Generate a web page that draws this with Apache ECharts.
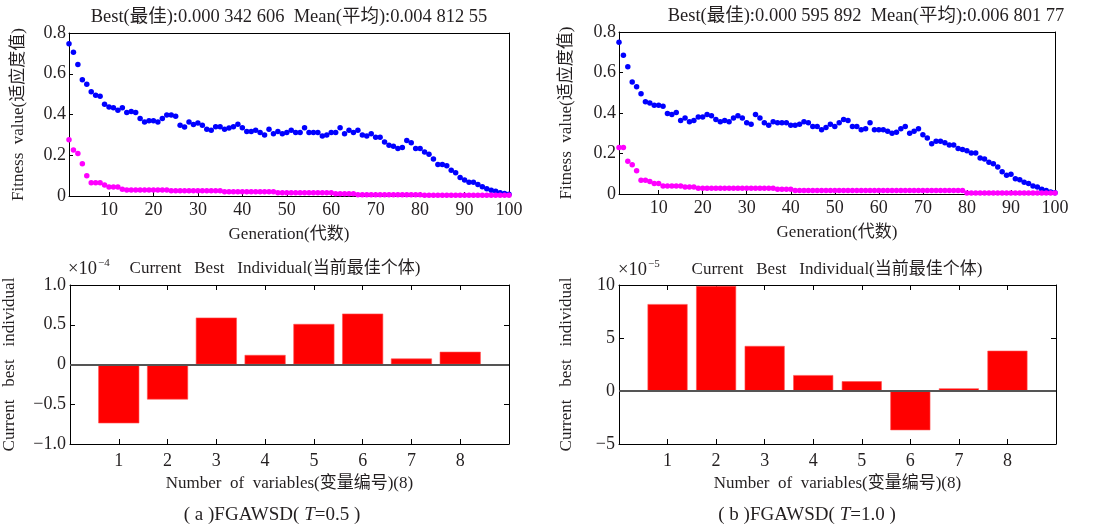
<!DOCTYPE html>
<html>
<head>
<meta charset="utf-8">
<script src="https://cdn.jsdelivr.net/npm/echarts@6/dist/echarts.min.js"></script>
<style>
  html, body { margin: 0; padding: 0; background: #fff; }
  #chart { width: 1094px; height: 527px; }
</style>
</head>
<body>
<div id="chart"></div>
<script>
// generation index 1..100
const generations = Array.from({ length: 100 }, (_, i) => i + 1);
const genTicks = [10, 20, 30, 40, 50, 60, 70, 80, 90, 100];

// (a) T=0.5, mean fitness (blue) and best fitness (magenta)
const meanA = [
  0.747, 0.706, 0.645, 0.570, 0.548, 0.512, 0.494, 0.489, 0.450, 0.437,
  0.433, 0.421, 0.433, 0.410, 0.415, 0.410, 0.380, 0.363, 0.369, 0.369,
  0.363, 0.380, 0.398, 0.398, 0.392, 0.347, 0.339, 0.363, 0.351, 0.358,
  0.347, 0.328, 0.323, 0.340, 0.340, 0.328, 0.334, 0.340, 0.352, 0.335,
  0.317, 0.317, 0.323, 0.312, 0.300, 0.328, 0.305, 0.317, 0.305, 0.312,
  0.323, 0.312, 0.312, 0.335, 0.312, 0.312, 0.312, 0.295, 0.300, 0.312,
  0.312, 0.335, 0.305, 0.323, 0.312, 0.323, 0.300, 0.295, 0.305, 0.288,
  0.288, 0.265, 0.249, 0.244, 0.233, 0.238, 0.272, 0.261, 0.233, 0.233,
  0.216, 0.205, 0.182, 0.154, 0.154, 0.149, 0.126, 0.114, 0.091, 0.079,
  0.068, 0.068, 0.056, 0.045, 0.035, 0.028, 0.023, 0.016, 0.012, 0.008
];
const bestA = [
  0.276, 0.226, 0.208, 0.158, 0.100, 0.065, 0.065, 0.065, 0.054, 0.044,
  0.044, 0.044, 0.033, 0.030, 0.030, 0.030, 0.030, 0.030, 0.030, 0.030,
  0.030, 0.030, 0.030, 0.026, 0.026, 0.026, 0.026, 0.026, 0.026, 0.026,
  0.026, 0.026, 0.026, 0.026, 0.026, 0.021, 0.021, 0.021, 0.021, 0.021,
  0.021, 0.021, 0.021, 0.021, 0.021, 0.021, 0.021, 0.016, 0.016, 0.016,
  0.016, 0.016, 0.016, 0.016, 0.016, 0.016, 0.016, 0.016, 0.016, 0.016,
  0.011, 0.011, 0.011, 0.011, 0.011, 0.006, 0.006, 0.006, 0.006, 0.006,
  0.006, 0.006, 0.006, 0.006, 0.006, 0.006, 0.006, 0.006, 0.006, 0.006,
  0.004, 0.004, 0.004, 0.004, 0.004, 0.004, 0.004, 0.004, 0.004, 0.004,
  0.004, 0.004, 0.004, 0.004, 0.004, 0.004, 0.004, 0.004, 0.004, 0.004
];

// (b) T=1.0
const meanB = [
  0.750, 0.685, 0.628, 0.553, 0.530, 0.495, 0.455, 0.450, 0.438, 0.438,
  0.433, 0.398, 0.392, 0.403, 0.363, 0.375, 0.357, 0.363, 0.380, 0.380,
  0.392, 0.387, 0.368, 0.357, 0.363, 0.357, 0.375, 0.387, 0.375, 0.352,
  0.345, 0.392, 0.375, 0.352, 0.340, 0.357, 0.352, 0.352, 0.352, 0.340,
  0.340, 0.345, 0.357, 0.352, 0.333, 0.333, 0.317, 0.328, 0.345, 0.333,
  0.352, 0.368, 0.363, 0.333, 0.333, 0.317, 0.322, 0.352, 0.317, 0.317,
  0.317, 0.310, 0.300, 0.305, 0.322, 0.333, 0.300, 0.310, 0.322, 0.293,
  0.277, 0.248, 0.260, 0.260, 0.253, 0.242, 0.242, 0.225, 0.220, 0.213,
  0.202, 0.202, 0.178, 0.173, 0.157, 0.150, 0.133, 0.110, 0.093, 0.098,
  0.075, 0.070, 0.058, 0.052, 0.040, 0.035, 0.023, 0.017, 0.010, 0.006
];
const bestB = [
  0.230, 0.230, 0.162, 0.145, 0.115, 0.068, 0.068, 0.062, 0.052, 0.052,
  0.040, 0.040, 0.040, 0.040, 0.040, 0.035, 0.035, 0.035, 0.028, 0.028,
  0.028, 0.028, 0.028, 0.028, 0.028, 0.028, 0.028, 0.028, 0.028, 0.028,
  0.028, 0.028, 0.028, 0.028, 0.028, 0.028, 0.023, 0.023, 0.023, 0.023,
  0.017, 0.017, 0.017, 0.017, 0.017, 0.017, 0.017, 0.017, 0.017, 0.017,
  0.017, 0.017, 0.017, 0.017, 0.017, 0.017, 0.017, 0.017, 0.017, 0.017,
  0.017, 0.017, 0.017, 0.017, 0.017, 0.017, 0.017, 0.017, 0.017, 0.017,
  0.017, 0.017, 0.017, 0.017, 0.017, 0.017, 0.017, 0.017, 0.017, 0.005,
  0.005, 0.005, 0.005, 0.005, 0.005, 0.005, 0.005, 0.005, 0.005, 0.005,
  0.005, 0.005, 0.005, 0.005, 0.005, 0.005, 0.005, 0.005, 0.005, 0.005
];

// current best individual, 8 variables
const variables = [1, 2, 3, 4, 5, 6, 7, 8];
const individualA = [-0.74, -0.44, 0.59, 0.12, 0.51, 0.64, 0.075, 0.16]; // x 1e-4
const individualB = [8.2, 9.9, 4.25, 1.5, 0.92, -3.7, 0.25, 3.8]; // x 1e-5

const titleA = 'Best(最佳):0.000 342 606  Mean(平均):0.004 812 55';
const titleB = 'Best(最佳):0.000 595 892  Mean(平均):0.006 801 77';

const FONT = "'Liberation Serif', 'Noto Sans CJK SC', serif";
const TXT = '#231f20';

const pairs = (xs, ys) => xs.map((x, i) => [x, ys[i]]);

const grids = [
  { left: 69, top: 33, width: 440, height: 163 },
  { left: 619, top: 32, width: 436, height: 162 },
  { left: 69, top: 285, width: 440, height: 159 },
  { left: 619, top: 285, width: 437, height: 159 },
];

const lineStyle = { color: '#000', width: 1 };
const labelStyle = { color: TXT, fontFamily: FONT, fontSize: 18 };
const nameStyle = { color: TXT, fontFamily: FONT, fontSize: 17 };

function genXAxes(gridIndex) {
  return [
    {
      gridIndex, type: 'value', position: 'bottom', min: 1, max: 100,
      axisLine: { onZero: false, lineStyle },
      axisTick: { inside: true, length: 4, customValues: genTicks, lineStyle },
      axisLabel: { ...labelStyle, margin: 5, customValues: genTicks },
      splitLine: { show: false },
      name: 'Generation(代数)', nameLocation: 'middle', nameGap: 30, nameTextStyle: nameStyle,
    },
    {
      gridIndex, type: 'value', position: 'top', min: 1, max: 100,
      axisLine: { onZero: false, lineStyle }, axisTick: { show: false },
      axisLabel: { show: false }, splitLine: { show: false },
    },
  ];
}

function fitYAxes(gridIndex, gap) {
  return [
    {
      gridIndex, type: 'value', position: 'left', min: 0, max: 0.8, interval: 0.2,
      axisLine: { show: true, onZero: false, lineStyle },
      axisTick: { show: true, inside: true, length: 4, lineStyle },
      axisLabel: { ...labelStyle, margin: 3, formatter: (v) => (v === 0 ? '0' : v.toFixed(1)) },
      splitLine: { show: false },
      name: 'Fitness  value(适应度值)', nameLocation: 'middle', nameGap: gap, nameTextStyle: nameStyle,
    },
    {
      gridIndex, type: 'value', position: 'right', min: 0, max: 0.8, interval: 0.2,
      axisLine: { show: true, onZero: false, lineStyle }, axisTick: { show: false },
      axisLabel: { show: false }, splitLine: { show: false },
    },
  ];
}

function varXAxes(gridIndex) {
  const base = {
    gridIndex, type: 'value', min: 0, max: 9, interval: 1,
    axisLine: { onZero: false, lineStyle },
    axisTick: { inside: true, length: 5, lineStyle },
    splitLine: { show: false },
  };
  return [
    {
      ...base, position: 'bottom',
      axisLabel: { ...labelStyle, margin: 8, formatter: (v) => (v === 0 || v === 9 ? '' : String(v)) },
      name: 'Number  of  variables(变量编号)(8)', nameLocation: 'middle', nameGap: 31, nameTextStyle: nameStyle,
    },
    { ...base, position: 'top', axisLabel: { show: false } },
  ];
}

function varYAxes(gridIndex, min, max, interval, fmt, gap) {
  const base = {
    gridIndex, type: 'value', min, max, interval,
    axisLine: { show: true, onZero: false, lineStyle },
    axisTick: { show: true, inside: true, length: 5, lineStyle },
    splitLine: { show: false },
  };
  return [
    {
      ...base, position: 'left',
      axisLabel: { ...labelStyle, margin: 4, formatter: fmt },
      name: 'Current   best   individual', nameLocation: 'middle', nameGap: gap, nameTextStyle: nameStyle,
    },
    { ...base, position: 'right', axisLabel: { show: false } },
  ];
}

const minus = (s) => s.replace('-', '−');

const xAxis = [...genXAxes(0), ...genXAxes(1), ...varXAxes(2), ...varXAxes(3)];
const yAxis = [
  ...fitYAxes(0, 42),
  ...fitYAxes(1, 44),
  ...varYAxes(2, -1, 1, 0.5, (v) => minus(v === 0 ? '0' : v.toFixed(1)), 52),
  ...varYAxes(3, -5, 10, 5, (v) => minus(String(v)), 44),
];

function dots(xi, yi, data, color) {
  return {
    type: 'scatter', xAxisIndex: xi, yAxisIndex: yi, data,
    symbol: 'circle', symbolSize: 5.5, itemStyle: { color, opacity: 1 }, silent: true, clip: true,
  };
}

function bars(xi, yi, values, width) {
  return {
    type: 'bar', xAxisIndex: xi, yAxisIndex: yi, data: pairs(variables, values),
    barWidth: width, itemStyle: { color: '#ff0000', borderColor: '#ff5050', borderWidth: 0.6 },
    silent: true,
    markLine: {
      silent: true, symbol: 'none', label: { show: false },
      lineStyle: { color: '#555', width: 2, type: 'solid' },
      data: [{ yAxis: 0 }],
    },
  };
}

const series = [
  dots(0, 0, pairs(generations, meanA), '#0000ff'),
  dots(0, 0, pairs(generations, bestA), '#ff00ff'),
  dots(2, 2, pairs(generations, meanB), '#0000ff'),
  dots(2, 2, pairs(generations, bestB), '#ff00ff'),
  bars(4, 4, individualA, 41),
  bars(6, 6, individualB, 40),
];

const txt = (x, y, text, size, extra) => ({
  type: 'text', x, y,
  style: { text, fill: TXT, font: `${size}px ${FONT}`, align: 'center', verticalAlign: 'middle', ...extra },
});

const caption = (x, text) => ({
  type: 'text', x, y: 515,
  style: {
    text, fill: TXT, font: `19px ${FONT}`,
    align: 'center', verticalAlign: 'middle',
    rich: { i: { fontStyle: 'italic', fontFamily: FONT, fontSize: 19, fill: TXT } },
  },
});

const graphic = [
  txt(289, 17, titleA, 18.5),
  txt(866, 16, titleB, 18.5),
  txt(68, 269, '×10', 18.5, { align: 'left' }),
  txt(98, 263, '−4', 11, { align: 'left' }),
  txt(275, 269, 'Current   Best   Individual(当前最佳个体)', 17),
  txt(618, 270, '×10', 18.5, { align: 'left' }),
  txt(648, 264, '−5', 11, { align: 'left' }),
  txt(837, 270, 'Current   Best   Individual(当前最佳个体)', 17),
  caption(272, '( a )FGAWSD( {i|T}=0.5 )'),
  caption(807, '( b )FGAWSD( {i|T}=1.0 )'),
];

const chart = echarts.init(document.getElementById('chart'), null, { renderer: 'canvas' });
chart.setOption({
  animation: false,
  backgroundColor: '#fff',
  grid: grids,
  xAxis,
  yAxis,
  series,
  graphic,
});
</script>
</body>
</html>
